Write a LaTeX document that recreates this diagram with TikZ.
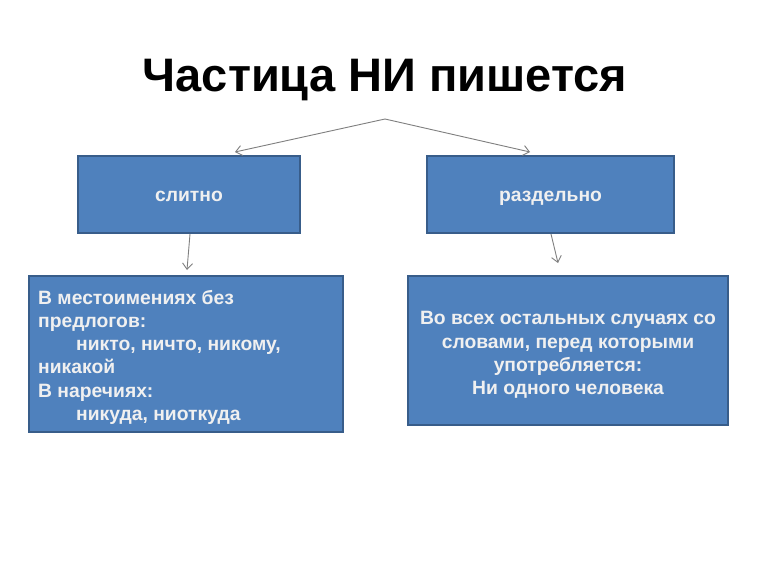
\documentclass[tikz,border=0pt]{standalone}
\usepackage{fontspec}
\setmainfont{Liberation Sans}
\usetikzlibrary{arrows.meta}
\definecolor{boxfill}{HTML}{4F81BD}
\definecolor{boxline}{HTML}{385D8A}
\definecolor{arrowgray}{HTML}{7F7F7F}
\begin{document}
\begin{tikzpicture}[x=1pt,y=-1pt,
  box/.style={draw=boxline,line width=1.6pt,fill=boxfill,inner sep=0pt},
  boxtext/.style={text=white!94!black,font=\bfseries\fontsize{19.3}{23.2}\selectfont},
  conn/.style={draw=arrowgray,line width=0.9pt,-{Straight Barb[length=6pt,width=10pt]}}]
\useasboundingbox (0,0) rectangle (770,577);
\fill[white] (0,0) rectangle (770,577);
\node[font=\bfseries\fontsize{47}{56}\selectfont,anchor=base] (title) at (385,92) {Частица НИ пишется};
\coordinate (apex) at (385,119);
\node[box,minimum width=222pt,minimum height=77pt] (s) at (189,194.5) {};
\node[boxtext,anchor=base] at (189,202) {слитно};
\node[box,minimum width=247pt,minimum height=77pt] (r) at (550.5,194.5) {};
\node[boxtext,anchor=base] at (550.5,202) {раздельно};
\node[box,minimum width=314pt,minimum height=156pt] (L) at (186,354) {};
\node[box,minimum width=320pt,minimum height=149pt] (R) at (568,350.5) {};
\node[boxtext,align=left,anchor=north west,inner sep=0pt] (Lt) at (38,290) {В местоимениях без\\предлогов:\\\hspace{38pt}никто, ничто, никому,\\никакой\\В наречиях:\\\hspace{38pt}никуда, ниоткуда};
\node[boxtext,align=center] (Rt) at (568,355) {Во всех остальных случаях со\\словами, перед которыми\\употребляется:\\Ни одного человека};
\coordinate (s1) at (235,152);
\coordinate (r1) at (530,152);
\draw[conn] (apex) -- (s1);
\draw[conn] (apex) -- (r1);
\draw[conn] (190,234) -- (187,270);
\draw[conn] (551,234) -- (558,263);
\end{tikzpicture}
\end{document}
